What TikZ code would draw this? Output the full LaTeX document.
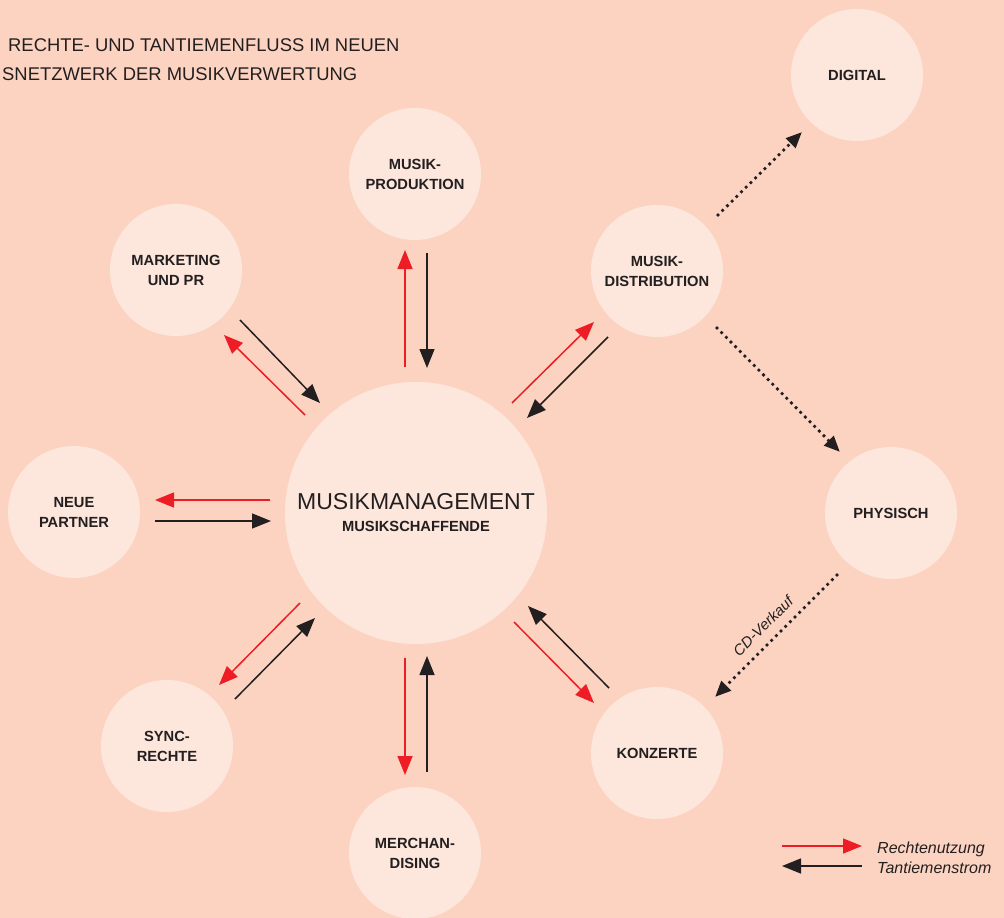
\documentclass[tikz,border=0pt]{standalone}
\usepackage{fontspec}
\setmainfont{Liberation Sans}
\usetikzlibrary{arrows.meta}
\definecolor{bg}{HTML}{FCD3C1}
\definecolor{disc}{HTML}{FDE6DB}
\definecolor{rline}{HTML}{EE1D25}
\definecolor{kline}{HTML}{231F20}
\tikzset{
  bubble/.style={circle, fill=disc, minimum size=132pt, inner sep=0pt, align=center, text=kline,
    font=\bfseries\fontsize{14.7}{20}\selectfont},
  hub/.style={circle, fill=disc, minimum size=262pt, inner sep=0pt, align=center, text=kline,
    font=\bfseries\fontsize{14.7}{22}\selectfont},
  rights/.style={draw=rline, line width=1.5pt, -{Triangle[length=19pt,width=15pt]}},
  royalty/.style={draw=kline, line width=1.5pt, -{Triangle[length=19pt,width=15pt]}},
  dotline/.style={draw=kline, line width=3.8pt, line cap=round, dash pattern=on 0pt off 6.6pt,
    -{Triangle[length=16pt,width=13pt,line cap=butt]}},
  title/.style={anchor=base west, text=kline, font=\fontsize{18.4}{22}\selectfont, inner sep=0pt},
  legtext/.style={anchor=base west, text=kline, font=\itshape\fontsize{16}{20}\selectfont, inner sep=0pt}
}
\begin{document}
\begin{tikzpicture}[x=1pt,y=-1pt]
\fill[bg] (0,0) rectangle (1004,918);
\useasboundingbox (0,0) rectangle (1004,918);
\begin{scope}
\clip (0,0) rectangle (1004,918);
% title
\node[title] (t1) at (8,51) {RECHTE- UND TANTIEMENFLUSS IM NEUEN};
\node[title] (t2) at (2,80) {SNETZWERK DER MUSIKVERWERTUNG};
% circles
\node[hub] (mm) at (416,513) {{\mdseries\fontsize{23}{22}\selectfont MUSIKMANAGEMENT}\\MUSIKSCHAFFENDE};
\node[bubble] (prod) at (415,174) {MUSIK-\\PRODUKTION};
\node[bubble] (mark) at (176,270) {MARKETING\\UND PR};
\node[bubble] (neu) at (74,512) {NEUE\\PARTNER};
\node[bubble] (sync) at (167,746) {SYNC-\\RECHTE};
\node[bubble] (merch) at (415,853) {MERCHAN-\\DISING};
\node[bubble] (konz) at (657,753) {KONZERTE};
\node[bubble] (phys) at (891,513) {PHYSISCH};
\node[bubble] (dist) at (657,271) {MUSIK-\\DISTRIBUTION};
\node[bubble] (dig) at (857,75) {DIGITAL};
\end{scope}
% arrow end points
\coordinate (pr1) at (405,367); \coordinate (pr2) at (405,250);
\coordinate (pk1) at (427,253); \coordinate (pk2) at (427,368);
\coordinate (mk1) at (240,320); \coordinate (mk2) at (320,403);
\coordinate (mr1) at (305,415); \coordinate (mr2) at (224,335);
\coordinate (nr1) at (270,500); \coordinate (nr2) at (155,500);
\coordinate (nk1) at (155,521); \coordinate (nk2) at (271,521);
\coordinate (sr1) at (300,603); \coordinate (sr2) at (219,685);
\coordinate (sk1) at (235,699); \coordinate (sk2) at (315,618);
\coordinate (er1) at (405,658); \coordinate (er2) at (405,775);
\coordinate (ek1) at (427,772); \coordinate (ek2) at (427,656);
\coordinate (kr1) at (514,622); \coordinate (kr2) at (594,703);
\coordinate (kk1) at (609,688); \coordinate (kk2) at (528,606);
\coordinate (dr1) at (512,403); \coordinate (dr2) at (594,322);
\coordinate (dk1) at (608,337); \coordinate (dk2) at (527,418);
\coordinate (g1) at (718,215); \coordinate (g2) at (802,132);
\coordinate (h1) at (717,328); \coordinate (h2) at (840,452);
\coordinate (c1) at (837,575); \coordinate (c2) at (715,697);
% arrows
\draw[rights] (pr1) -- (pr2);
\draw[royalty] (pk1) -- (pk2);
\draw[royalty] (mk1) -- (mk2);
\draw[rights] (mr1) -- (mr2);
\draw[rights] (nr1) -- (nr2);
\draw[royalty] (nk1) -- (nk2);
\draw[rights] (sr1) -- (sr2);
\draw[royalty] (sk1) -- (sk2);
\draw[rights] (er1) -- (er2);
\draw[royalty] (ek1) -- (ek2);
\draw[rights] (kr1) -- (kr2);
\draw[royalty] (kk1) -- (kk2);
\draw[rights] (dr1) -- (dr2);
\draw[royalty] (dk1) -- (dk2);
\draw[dotline] (g1) -- (g2);
\draw[dotline] (h1) -- (h2);
\draw[dotline] (c1) -- (c2);
\node[rotate=45, text=kline, font=\itshape\fontsize{15}{18}\selectfont, inner sep=0pt] (cd) at (763,626) {CD-Verkauf};
% legend
\coordinate (l1) at (782,846); \coordinate (l2) at (862,846);
\coordinate (l3) at (862,866); \coordinate (l4) at (782,866);
\draw[rights] (l1) -- (l2);
\draw[royalty] (l3) -- (l4);
\node[legtext] (lr) at (877,853) {Rechtenutzung};
\node[legtext] (lk) at (877,873) {Tantiemenstrom};
\end{tikzpicture}
\end{document}
